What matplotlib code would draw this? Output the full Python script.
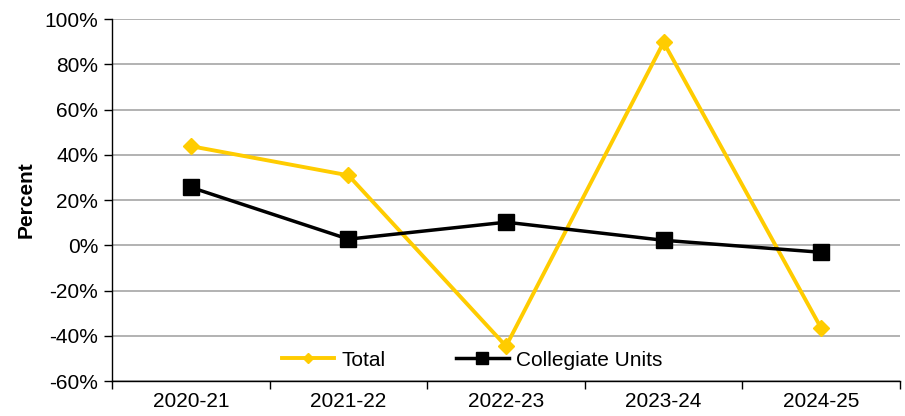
import matplotlib
matplotlib.use("Agg")
import matplotlib.pyplot as plt
from matplotlib.ticker import FuncFormatter, FixedLocator

# ================= DATA =================
YEARS = ["2020-21", "2021-22", "2022-23", "2023-24", "2024-25"]
TOTAL = [43.8, 30.9, -44.6, 89.7, -36.7]
COLLEGIATE = [25.6, 2.7, 10.2, 2.2, -3.1]

# ================= STYLE =================
YELLOW = "#FFCC00"
GRID = "#a6a6a6"
FS = 15

plt.rcParams["font.family"] = ["Liberation Sans", "DejaVu Sans"]

fig = plt.figure(figsize=(9.05, 4.16), dpi=100)
ax = fig.add_axes([0.1238, 0.0841, 0.8707, 0.8702])

x = list(range(len(YEARS)))
ax.plot(x, TOTAL, color=YELLOW, lw=2.8, marker="D", markersize=8,
        markeredgecolor=YELLOW, label="Total", zorder=3)
ax.plot(x, COLLEGIATE, color="black", lw=2.5, marker="s", markersize=12,
        label="Collegiate Units", zorder=4)

ax.set_xlim(-0.5, len(YEARS) - 0.5)
ax.set_ylim(-60, 100)
ax.set_yticks(range(-60, 101, 20))
ax.yaxis.set_major_formatter(FuncFormatter(lambda v, p: f"{v:.0f}%"))
ax.yaxis.grid(True, color=GRID, lw=1.2)
ax.set_axisbelow(True)

ax.set_xticks(x)
ax.set_xticklabels(YEARS, fontsize=FS)
ax.tick_params(axis="x", length=0, pad=8)
ax.xaxis.set_minor_locator(FixedLocator([i - 0.5 for i in range(len(YEARS) + 1)]))
ax.tick_params(axis="x", which="minor", length=6, width=1, direction="out")
ax.tick_params(axis="y", labelsize=FS, length=6, width=1, direction="out", pad=4)

ax.spines["top"].set_visible(False)
ax.spines["right"].set_visible(False)
ax.spines["left"].set_linewidth(1)
ax.spines["bottom"].set_linewidth(1)

ax.set_ylabel("Percent", fontsize=FS, fontweight="bold", labelpad=6)

ax.legend(loc="lower center", bbox_to_anchor=(0.457, -0.02), ncol=2, frameon=False,
          fontsize=FS, columnspacing=3.4, handlelength=2.5, handletextpad=0.35,
          markerscale=0.7)

fig.savefig("out.png", dpi=100)
